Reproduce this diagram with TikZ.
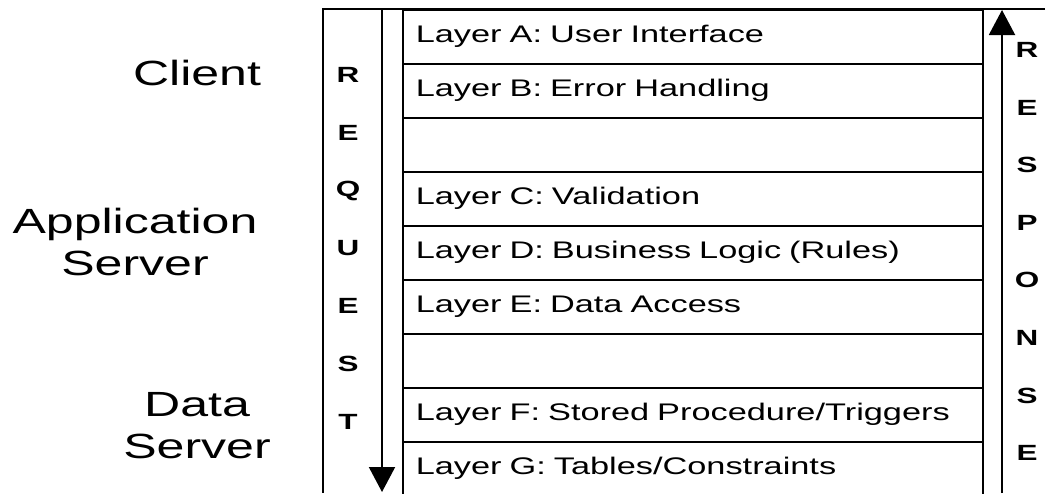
\documentclass[tikz,border=0pt]{standalone}
\usepackage{fontspec}
\setmainfont[FakeStretch=1.43]{Liberation Sans}
\usetikzlibrary{arrows.meta}
\begin{document}
\begin{tikzpicture}[x=1pt,y=-1pt,
  rule/.style={line width=2pt},
  layerrow/.style={draw, line width=1.6pt, anchor=north west,
    minimum width=580pt, inner xsep=13pt, inner ysep=0pt,
    text width=554pt, text height=33pt, text depth=21pt, align=left,
    font=\fontsize{24}{28}\selectfont},
  tier/.style={align=center, inner sep=0pt, anchor=base,
    font=\fontsize{35}{42}\selectfont},
  flowletter/.style={inner sep=0pt, font=\fontsize{22}{26}\selectfont\bfseries},
  flow/.style={line width=2pt, -{Triangle[width=26pt,length=25pt]}}
]
\useasboundingbox (0,0) rectangle (1047,493);

% layer stack
\node[layerrow] (rowA) at (402,9)   {Layer A: User Interface};
\node[layerrow] (rowB) at (402,63)  {Layer B: Error Handling};
\node[layerrow] (rowX) at (402,117) {};
\node[layerrow] (rowC) at (402,171) {Layer C: Validation};
\node[layerrow] (rowD) at (402,225) {Layer D: Business Logic (Rules)};
\node[layerrow] (rowE) at (402,279) {Layer E: Data Access};
\node[layerrow] (rowY) at (402,333) {};
\node[layerrow] (rowF) at (402,387) {Layer F: Stored Procedure/Triggers};
\node[layerrow] (rowG) at (402,441) {Layer G: Tables/Constraints};

% outer frame
\coordinate (frameTR) at (1045,9);
\coordinate (frameTL) at (323,9);
\coordinate (frameBL) at (323,493);
\draw[rule] (frameTR) -- (frameTL) -- (frameBL);

% request and response arrows
\coordinate (reqStart) at (382,9);
\coordinate (reqEnd) at (382,492);
\coordinate (resStart) at (1002,493);
\coordinate (resEnd) at (1002,10);
\draw[flow] (reqStart) -- (reqEnd);
\draw[flow] (resStart) -- (resEnd);

% vertical letters
\foreach \ch [count=\i from 0] in {R,E,Q,U,E,S,T}
  \node[flowletter] (req\i) at (348,{75+57.8*\i}) {\ch};
\foreach \ch [count=\i from 0] in {R,E,S,P,O,N,S,E}
  \node[flowletter] (res\i) at (1027,{50+57.6*\i}) {\ch};

% tiers (base anchor sits on the last line)
\node[tier] (client) at (197,85) {Client};
\node[tier] (appsrv) at (135,275) {Application\\Server};
\node[tier] (datasrv) at (197,458) {Data\\Server};
\end{tikzpicture}
\end{document}
